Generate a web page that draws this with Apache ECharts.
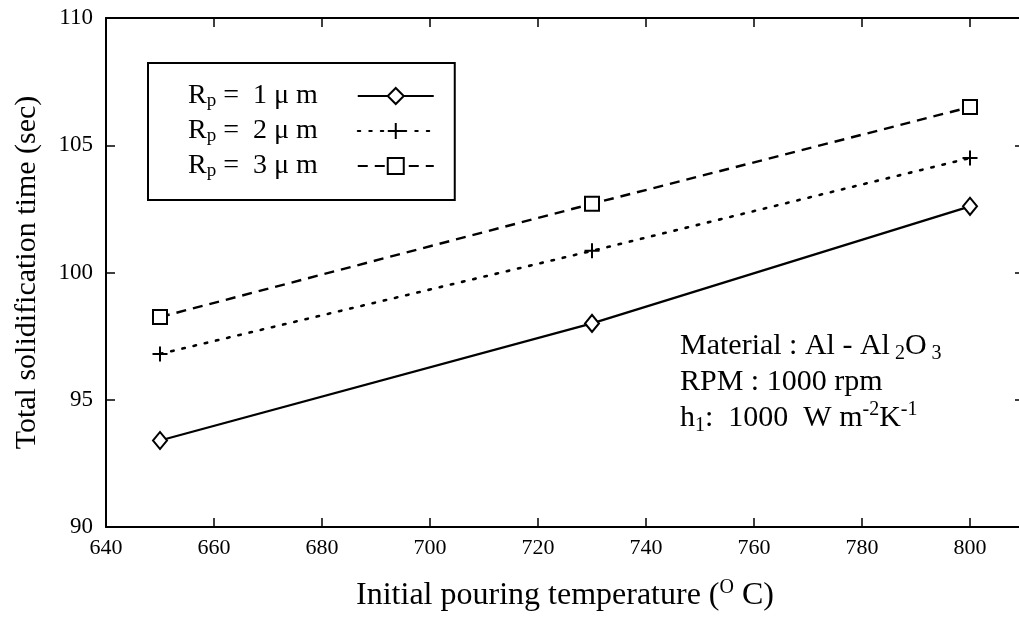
<!DOCTYPE html>
<html><head><meta charset="utf-8">
<script src="https://cdn.jsdelivr.net/npm/echarts@6/dist/echarts.min.js"></script>
<style>html,body{margin:0;padding:0;background:#fff;overflow:hidden;width:1019px;height:627px}#c{width:1027px;height:627px}</style>
</head><body><div id="c"></div>
<script>
// ---- data ----
const temperatures = [650, 730, 800];
const rp1 = [93.4, 98.0, 102.6];
const rp2 = [96.8, 100.85, 104.5];
const rp3 = [98.25, 102.7, 106.5];
const seriesNames = ['Rp = 1 μm', 'Rp = 2 μm', 'Rp = 3 μm'];
const legendLabels = ['R{sub|p} =  1 μ m{gap| }', 'R{sub|p} =  2 μ m{gap| }', 'R{sub|p} =  3 μ m{gap| }'];
const xTickLabels = [640, 660, 680, 700, 720, 740, 760, 780, 800];
const yTickLabels = [90, 95, 100, 105, 110];

const F = 'Liberation Serif';
const chart = echarts.init(document.getElementById('c'));

function pairs(ys) { return temperatures.map((t, i) => [t, ys[i]]); }

const axisCommon = {
  axisLine: { show: true, lineStyle: { color: '#000', width: 2 } },
  axisTick: { show: true, inside: true, length: 9, lineStyle: { color: '#000', width: 1.5 } },
  splitLine: { show: false }
};

const plusPath = 'path://M0,5 L10,5 M5,0 L5,10';

chart.setOption({
  backgroundColor: '#fff',
  animation: false,
  grid: { left: 106, top: 18, right: 2, bottom: 100, containLabel: false },
  xAxis: [
    Object.assign({
      type: 'value', min: 640, max: 810, interval: 20, position: 'bottom',
      axisLabel: {
        show: true, color: '#000', fontFamily: F, fontSize: 22, margin: 10,
        formatter: v => xTickLabels.indexOf(v) >= 0 ? String(v) : ''
      },
      name: 'Initial pouring temperature ({sup|O} C)',
      nameLocation: 'middle', nameGap: 51,
      nameTextStyle: {
        color: '#000', fontFamily: F, fontSize: 32, lineHeight: 36,
        rich: { sup: { fontFamily: F, fontSize: 20, verticalAlign: 'top', lineHeight: 36, color: '#000' } }
      }
    }, axisCommon),
    Object.assign({
      type: 'value', min: 640, max: 810, interval: 20, position: 'top',
      axisLabel: { show: false }
    }, axisCommon)
  ],
  yAxis: [
    Object.assign({
      type: 'value', min: 90, max: 110, interval: 5, position: 'left',
      axisLabel: {
        show: true, color: '#000', fontFamily: F, fontSize: 23, margin: 13,
        formatter: v => yTickLabels.indexOf(v) >= 0 ? String(v) : ''
      },
      name: 'Total solidification time (sec)',
      nameLocation: 'middle', nameGap: 64,
      nameTextStyle: { color: '#000', fontFamily: F, fontSize: 30 }
    }, axisCommon),
    Object.assign({
      type: 'value', min: 90, max: 110, interval: 5, position: 'right',
      axisLabel: { show: false }
    }, axisCommon)
  ],
  legend: {
    data: seriesNames,
    orient: 'vertical', left: 148, top: 63, align: 'right',
    itemWidth: 76, itemHeight: 20, itemGap: 5,
    padding: [18, 20, 19, 40],
    borderColor: '#000', borderWidth: 2, borderRadius: 0,
    backgroundColor: '#fff',
    formatter: name => legendLabels[seriesNames.indexOf(name)],
    textStyle: {
      color: '#000', fontFamily: F, fontSize: 28, lineHeight: 30,
      rich: {
        sub: { fontFamily: F, fontSize: 19, verticalAlign: 'bottom', lineHeight: 30, color: '#000' },
        gap: { width: 35 }
      }
    }
  },
  series: [
    {
      name: seriesNames[0], type: 'line', data: pairs(rp1),
      symbol: 'diamond', symbolSize: [14, 17],
      itemStyle: { color: '#fff', borderColor: '#000', borderWidth: 2 },
      lineStyle: { color: '#000', width: 2.2, type: 'solid' }
    },
    {
      name: seriesNames[1], type: 'line', data: pairs(rp2),
      symbol: plusPath, symbolSize: 15,
      itemStyle: { color: '#fff', borderColor: '#000', borderWidth: 2 },
      lineStyle: { color: '#000', width: 2.6, type: [2.5, 9], cap: 'round' }
    },
    {
      name: seriesNames[2], type: 'line', data: pairs(rp3),
      symbol: 'rect', symbolSize: 14,
      itemStyle: { color: '#fff', borderColor: '#000', borderWidth: 2 },
      lineStyle: { color: '#000', width: 2.4, type: [10, 7] }
    }
  ],
  graphic: [
    {
      type: 'text', left: 680, top: 328,
      style: {
        text: 'Material : Al - Al{sub| 2}O{sub| 3}\nRPM : 1000 rpm\nh{sub|1}:  1000  W m{sup|-2}K{sup|-1}',
        fill: '#000', fontFamily: F, fontSize: 30, lineHeight: 36,
        rich: {
          sub: { fontFamily: F, fontSize: 20, verticalAlign: 'bottom', lineHeight: 36, fill: '#000' },
          sup: { fontFamily: F, fontSize: 20, verticalAlign: 'top', lineHeight: 36, fill: '#000' }
        }
      }
    }
  ]
});
</script>
</body></html>
